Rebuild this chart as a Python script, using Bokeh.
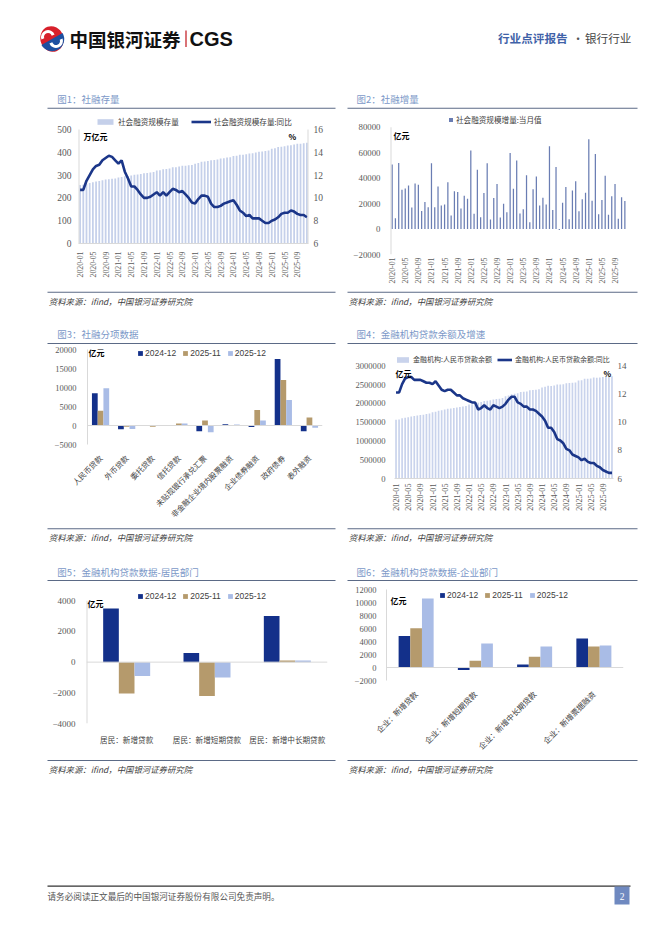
import math
from bokeh.plotting import figure
from bokeh.models import (Range1d, FactorRange, LinearAxis, Legend, LegendItem, Label, Span,
                          FixedTicker, ColumnDataSource, BasicTickFormatter)
from bokeh.layouts import column, row
from bokeh.transform import dodge
from bokeh.core.properties import value
from bokeh.embed import file_html
from bokeh.resources import INLINE

CJK = "Noto Sans CJK SC"
SERIF = "Liberation Serif"
SANS = "Liberation Sans"
NAVY = "#13308a"
TAN = "#b59a6c"
LIGHT = "#a9bce6"
TICK = "#595959"
AXIS = "#d9d9d9"
LINE_BLUE = "#1b3689"

# ---------------- data ----------------
years = ["2020", "2021", "2022", "2023", "2024", "2025"]
months = [f"{y}-{m:02d}" for y in years for m in range(1, 13)]
month_tick_labels = ["2020-01", "2020-05", "2020-09", "2021-01", "2021-05", "2021-09",
                     "2022-01", "2022-05", "2022-09", "2023-01", "2023-05", "2023-09",
                     "2024-01", "2024-05", "2024-09", "2025-01", "2025-05", "2025-09"]

# 图1 社会融资规模存量 (万亿元) and 同比 (%)
tsf_stock = [256.8, 257.7, 262.7, 265.7, 268.4, 271.8, 273.6, 276.9, 280.4, 281.6, 283.7, 284.8,
             289.8, 291.4, 294.6, 296.6, 298.6, 301.6, 302.5, 305.0, 307.8, 309.5, 311.9, 314.1,
             320.3, 321.3, 325.6, 326.5, 329.2, 334.3, 334.9, 337.2, 340.7, 341.4, 343.2, 344.2,
             350.0, 353.1, 359.0, 359.4, 361.4, 365.5, 365.8, 368.9, 372.5, 374.2, 376.8, 378.1,
             383.4, 384.7, 389.4, 389.2, 391.2, 395.1, 395.7, 398.8, 402.2, 403.5, 405.6, 408.3,
             415.2, 417.9, 423.0, 424.0, 426.2, 430.2, 431.3, 433.7, 437.1, 437.7, 440.1, 442.1]
tsf_stock_yoy = [10.7, 10.7, 11.5, 12.0, 12.5, 12.8, 12.9, 13.3, 13.5, 13.7, 13.6, 13.3,
                 13.0, 13.3, 12.3, 11.7, 11.0, 11.0, 10.7, 10.3, 10.0, 10.0, 10.1, 10.3,
                 10.5, 10.2, 10.5, 10.2, 10.5, 10.8, 10.7, 10.5, 10.6, 10.3, 10.0, 9.6,
                 9.5, 9.9, 10.2, 10.2, 10.1, 9.5, 9.2, 9.2, 9.3, 9.5, 9.6, 9.7,
                 9.8, 9.4, 8.9, 8.7, 8.4, 8.5, 8.2, 8.2, 8.2, 8.0, 7.8, 7.8,
                 8.0, 8.1, 8.3, 8.6, 8.7, 8.7, 8.9, 8.8, 8.6, 8.5, 8.5, 8.3]

# 图2 社会融资规模增量:当月值 (亿元)
tsf_flow = [50700, 8554, 51800, 30900, 31900, 34300, 16900, 35800, 34800, 14200, 21300, 17200,
            51700, 17100, 33400, 18500, 19200, 36700, 10600, 29600, 29000, 16200, 26100, 23700,
            61700, 12000, 46500, 9327, 28400, 51700, 7561, 24300, 35300, 9079, 19900, 13100,
            59800, 31600, 53800, 12200, 15600, 42200, 5282, 31200, 41300, 18500, 24500, 19300,
            65000, 15000, 48700, -658, 20600, 33000, 7708, 30300, 37600, 14000, 23400, 28500,
            70600, 22300, 58900, 11600, 22900, 41900, 11300, 25700, 35300, 8150, 24900, 22100]

# 图3 社融分项数据 (亿元)
tsf_items = ["人民币贷款", "外币贷款", "委托贷款", "信托贷款", "未贴现银行承兑汇票",
             "非金融企业境内股票融资", "企业债券融资", "政府债券", "表外融资"]
tsf_2024_12 = [8500, -1000, 50, 100, -1500, 300, -400, 17500, -1500]
tsf_2025_11 = [3900, -300, -300, 500, 1300, 100, 4100, 12000, 2100]
tsf_2025_12 = [9800, -900, 150, 500, -1800, 250, 1300, 6700, -600]

# 图4 金融机构:人民币贷款余额 (亿元) and 同比 (%)
loan_balance = [1564500, 1573500, 1602000, 1619000, 1633700, 1652000, 1661000, 1674000, 1693000, 1700000, 1715000, 1727500,
                1763000, 1777000, 1804000, 1819000, 1834000, 1855000, 1864000, 1876000, 1893000, 1901000, 1918000, 1926900,
                1967000, 1979000, 2010000, 2017000, 2036000, 2064000, 2068000, 2081000, 2106000, 2113000, 2126000, 2139900,
                2189000, 2207000, 2246000, 2253000, 2267000, 2303000, 2306000, 2319000, 2346000, 2353000, 2364000, 2375900,
                2425000, 2439000, 2470000, 2463000, 2478000, 2502000, 2500000, 2509000, 2536000, 2542000, 2548000, 2556800,
                2608000, 2618000, 2654000, 2657000, 2663000, 2686000, 2685000, 2691000, 2704000, 2702000, 2706000, 2719000]
loan_yoy = [12.1, 12.1, 12.7, 13.1, 13.2, 13.2, 13.0, 13.0, 13.0, 12.9, 12.8, 12.8,
            12.7, 12.9, 12.6, 12.3, 12.2, 12.3, 12.3, 12.1, 11.9, 11.9, 11.7, 11.6,
            11.5, 11.4, 11.4, 10.9, 11.0, 11.2, 11.0, 10.9, 11.2, 11.1, 11.0, 11.1,
            11.3, 11.6, 11.8, 11.8, 11.4, 11.3, 11.1, 11.1, 10.9, 10.9, 10.8, 10.6,
            10.4, 10.1, 9.6, 9.6, 9.3, 8.8, 8.7, 8.5, 8.1, 8.0, 7.7, 7.6,
            7.5, 7.3, 7.4, 7.2, 7.1, 7.1, 6.9, 6.8, 6.6, 6.5, 6.4, 6.4]

# 图5 居民部门 (亿元)
hh_items = ["居民：新增贷款", "居民：新增短期贷款", "居民：新增中长期贷款"]
hh_2024_12 = [3500, 600, 3000]
hh_2025_11 = [-2050, -2200, 100]
hh_2025_12 = [-900, -1000, 100]

# 图6 企业部门 (亿元)
ent_items = ["企业：新增贷款", "企业：新增短期贷款", "企业：新增中长期贷款", "企业：新增票据融资"]
ent_2024_12 = [4850, -400, 450, 4450]
ent_2025_11 = [6050, 1050, 1650, 3250]
ent_2025_12 = [10600, 3700, 3250, 3400]

series_names = ["2024-12", "2025-11", "2025-12"]


# ---------------- helpers ----------------
def headroom(v_top, y_top, v_bot, y_bot, frame_top):
    """range end so that v_top sits y_top px, v_bot sits y_bot px, frame starts at frame_top px"""
    per_px = (v_top - v_bot) / (y_bot - y_top)
    return v_top + (y_top - frame_top) * per_px


def chart_fig(w, h, xr, yr, ml, mr, mt, mb):
    p = figure(width=w, height=h, x_range=xr, y_range=yr, output_backend="svg",
               toolbar_location=None, min_border_left=ml, min_border_right=mr,
               min_border_top=mt, min_border_bottom=mb)
    try:
        p.frame_align = False
    except Exception:
        pass
    p.outline_line_color = None
    p.grid.grid_line_color = None
    return p


def style_y(ax, ticks, size="8.5px", standoff=8, line=True):
    ax.ticker = FixedTicker(ticks=ticks)
    ax.formatter = BasicTickFormatter(use_scientific=False)
    ax.major_label_text_font = SERIF
    ax.major_label_text_font_size = size
    ax.major_label_text_color = TICK
    ax.major_tick_line_color = None
    ax.minor_tick_line_color = None
    ax.major_tick_out = 0
    ax.major_tick_in = 0
    ax.minor_tick_out = 0
    ax.axis_line_color = AXIS if line else None
    ax.major_label_standoff = standoff


def style_x_months(ax, size="8px", standoff=6, line=True):
    idx = [months.index(t) for t in month_tick_labels]
    ax.ticker = FixedTicker(ticks=idx)
    ax.major_label_overrides = {i: months[i] for i in idx}
    ax.major_label_orientation = math.pi / 2
    ax.major_label_text_font = SERIF
    ax.major_label_text_font_size = size
    ax.major_label_text_color = TICK
    ax.major_tick_line_color = None
    ax.minor_tick_line_color = None
    ax.major_tick_out = 0
    ax.major_tick_in = 0
    ax.minor_tick_out = 0
    ax.axis_line_color = AXIS if line else None
    ax.major_label_standoff = standoff


def style_x_cat(ax, size="7.6px", standoff=10, orient=None):
    ax.major_label_text_font = CJK
    ax.major_label_text_font_size = size
    ax.major_label_text_color = "#404040"
    ax.major_tick_line_color = None
    ax.minor_tick_line_color = None
    ax.major_tick_out = 0
    ax.major_tick_in = 0
    ax.axis_line_color = None
    ax.major_label_standoff = standoff
    if orient is not None:
        ax.major_label_orientation = orient


def add_legend(p, items, x, y, gw, gh, font, size, spacing, standoff):
    lg = Legend(items=[LegendItem(label=l, renderers=[r]) for l, r in items],
                location=(x, y), orientation="horizontal",
                glyph_width=gw, glyph_height=gh, label_standoff=standoff,
                spacing=spacing, padding=0, margin=0, label_height=10, label_width=5,
                label_text_font=font, label_text_font_size=size, label_text_color="#404040",
                border_line_color=None, background_fill_alpha=0)
    p.add_layout(lg)


def unit_label(p, x, y, text):
    p.add_layout(Label(x=x, y=y, x_units="screen", y_units="screen", text=text,
                       text_font=CJK, text_font_style="bold", text_font_size="8px",
                       text_color="#000000", text_baseline="middle", text_align="left"))


def strip(y0, y1):
    p = figure(width=654, height=y1 - y0, x_range=Range1d(0, 654), y_range=Range1d(y1, y0),
               output_backend="svg", toolbar_location=None, x_axis_type=None, y_axis_type=None,
               min_border_left=0, min_border_right=0, min_border_top=0, min_border_bottom=0)
    p.outline_line_color = None
    return p


RULE = "#5b6a86"
TITLE_C = "#7b98c8"


def title_strip(y0, y1, ty, ly, titles):
    p = strip(y0, y1)
    p.text(x=[56.7, 356.0], y=[ty, ty], text=titles, text_font=value(CJK),
           text_font_size="9.5px", text_color=TITLE_C, text_baseline="middle")
    p.segment(x0=[47, 347], y0=[ly, ly], x1=[335, 637], y1=[ly, ly],
              line_color=RULE, line_width=1.1)
    return p


def source_strip(y0, y1, ly, ty):
    p = strip(y0, y1)
    p.segment(x0=[47, 347], y0=[ly, ly], x1=[335, 637], y1=[ly, ly],
              line_color=RULE, line_width=1.1)
    src = "资料来源：ifind，中国银河证券研究院"
    p.text(x=[48.3, 348.3], y=[ty, ty], text=[src, src], text_font=value(CJK),
           text_font_size="8.4px", text_font_style="italic", text_color="#404040",
           text_baseline="middle")
    return p


xi = list(range(len(months)))

# ---------------- header ----------------
hdr = strip(0, 88)
hdr.ellipse(x=[51.5], y=[38.5], width=[23], height=[26], angle=[0.35],
            fill_color="#d7202b", line_color=None)
hdr.wedge(x=[51.5], y=[38.5], radius=[12.2], start_angle=[-math.radians(150)],
          end_angle=[math.radians(30)], fill_color="#1c4fa0", line_color=None)
hdr.arc(x=[47.5], y=[36.5], radius=[5.5], start_angle=[math.radians(20)],
        end_angle=[math.radians(200)], line_color="white", line_width=3)
hdr.arc(x=[55.5], y=[40.5], radius=[5.5], start_angle=[math.radians(200)],
        end_angle=[math.radians(380)], line_color="white", line_width=3)
hdr.text(x=[69], y=[38.5], text=["中国银河证券"], text_font=value(CJK), text_font_style="bold",
         text_font_size="18.5px", text_color="#111111", text_baseline="middle")
hdr.segment(x0=[185.5], y0=[30], x1=[185.5], y1=[46.5], line_color="#c0151c", line_width=1.2)
hdr.text(x=[189], y=[38.5], text=["CGS"], text_font=value(SANS), text_font_style="bold",
         text_font_size="20px", text_color="#111111", text_baseline="middle")
hdr.text(x=[497.5], y=[37], text=["行业点评报告"], text_font=value(CJK), text_font_style="bold",
         text_font_size="11.6px", text_color="#3f62a8", text_baseline="middle")
hdr.text(x=[577.5], y=[37], text=["·"], text_font=value(CJK), text_align="center",
         text_font_size="11.6px", text_color="#555555", text_baseline="middle")
hdr.text(x=[584.5], y=[37], text=["银行行业"], text_font=value(CJK),
         text_font_size="11.6px", text_color="#444444", text_baseline="middle")

# ---------------- row 1 ----------------
t1 = title_strip(88, 112, 98.3, 107.7, ["图1：社融存量", "图2：社融增量"])

# frame from y=115 to y=243 (page px); 500 -> 129, 0 -> 243
p1 = chart_fig(341, 178, Range1d(-0.5, 71.5), Range1d(0, headroom(500, 129, 0, 243, 115)),
               78, 33, 3, 47)
p1.extra_y_ranges = {"r": Range1d(6, headroom(16, 129, 6, 243, 115))}
b1 = p1.vbar(x=xi, top=tsf_stock, width=0.55, fill_color="#c5d0ea", line_color=None)
l1 = p1.line(x=xi, y=tsf_stock_yoy, y_range_name="r", line_color=LINE_BLUE, line_width=2.6)
p1.segment(x0=[-0.5, 71.5], y0=[0, 0], x1=[-0.5, 71.5], y1=[500, 500], line_color=AXIS, line_width=2)
p1.add_layout(LinearAxis(y_range_name="r"), "right")
style_y(p1.yaxis[0], [0, 100, 200, 300, 400, 500], size="9.5px", standoff=7, line=False)
style_y(p1.yaxis[1], [6, 8, 10, 12, 14, 16], size="9.5px", standoff=5, line=False)
style_x_months(p1.xaxis[0], size="7.8px", standoff=8)
add_legend(p1, [("社会融资规模存量", b1), ("社会融资规模存量:同比", l1)], 17, 116, 20, 7,
           CJK, "7.6px", 12, 3)
unit_label(p1, 5, 107, "万亿元")
unit_label(p1, 210, 107, "%")

# frame from y=114 to y=254; 80000 -> 126.7, -20000 -> 254
p2 = chart_fig(313, 178, Range1d(-0.5, 71.5),
               Range1d(-20000, headroom(80000, 126.7, -20000, 254, 114)), 49, 28, 2, 36)
b2 = p2.vbar(x=xi, top=tsf_flow, width=0.38, fill_color="#6a7db3", line_color=None)
p2.segment(x0=[-0.5], y0=[-20000], x1=[-0.5], y1=[80000], line_color=AXIS, line_width=2)
style_y(p2.yaxis[0], [-20000, 0, 20000, 40000, 60000, 80000], size="8.8px", standoff=10, line=False)
style_x_months(p2.xaxis[0], size="7.8px", standoff=3, line=False)
add_legend(p2, [("社会融资规模增量:当月值", b2)], 58, 129, 5, 5, CJK, "7.6px", 8, 3)
unit_label(p2, 3, 119, "亿元")

s1 = source_strip(290, 310, 291.7, 300.3)

# ---------------- row 2 ----------------
t2 = title_strip(310, 344, 333.5, 343.0, ["图3：社融分项数据", "图4：金融机构贷款余额及增速"])

p3 = chart_fig(341, 182, FactorRange(*tsf_items), Range1d(-5000, 20000), 87, 19, 5, 78)
src3 = ColumnDataSource(dict(x=tsf_items, a=tsf_2024_12, b=tsf_2025_11, c=tsf_2025_12))
p3.add_layout(Span(location=0, dimension="width", line_color=AXIS, line_width=1))
r3a = p3.vbar(x=dodge("x", -0.22, range=p3.x_range), top="a", width=0.22, source=src3,
              fill_color=NAVY, line_color=None)
r3b = p3.vbar(x=dodge("x", 0.0, range=p3.x_range), top="b", width=0.22, source=src3,
              fill_color=TAN, line_color=None)
r3c = p3.vbar(x=dodge("x", 0.22, range=p3.x_range), top="c", width=0.22, source=src3,
              fill_color=LIGHT, line_color=None)
style_y(p3.yaxis[0], [-5000, 0, 5000, 10000, 15000, 20000], size="8.5px", standoff=11)
style_x_cat(p3.xaxis[0], size="7.6px", standoff=12, orient=math.pi / 4)
add_legend(p3, list(zip(series_names, [r3a, r3b, r3c])), 50, 86, 6, 6, SANS, "8.5px", 6, 2)
unit_label(p3, 1, 92, "亿元")

# frame from y=353 to y=478; 3000000 -> 365.3, 0 -> 478
p4 = chart_fig(313, 182, Range1d(-0.5, 71.5),
               Range1d(0, headroom(3000000, 365.3, 0, 478, 353)), 53, 41, 9, 48)
p4.extra_y_ranges = {"r": Range1d(6, headroom(14, 365.3, 6, 478, 353))}
b4 = p4.vbar(x=xi, top=loan_balance, width=0.55, fill_color="#c9d3ec", line_color=None)
l4 = p4.line(x=xi, y=loan_yoy, y_range_name="r", line_color=LINE_BLUE, line_width=2.6)
p4.add_layout(LinearAxis(y_range_name="r"), "right")
style_y(p4.yaxis[0], [0, 500000, 1000000, 1500000, 2000000, 2500000, 3000000], size="8.6px",
        standoff=9, line=False)
style_y(p4.yaxis[1], [6, 8, 10, 12, 14], size="9px", standoff=4, line=False)
style_x_months(p4.xaxis[0], size="8.2px", standoff=5)
add_legend(p4, [("金融机构:人民币贷款余额", b4), ("金融机构:人民币贷款余额:同比", l4)], 1, 114,
           15, 7, CJK, "7px", 5, 3)
unit_label(p4, 1, 105, "亿元")
unit_label(p4, 209, 105, "%")

s2 = source_strip(526, 546, 528.3, 536.8)

# ---------------- row 3 ----------------
t3 = title_strip(546, 584, 571.0, 580.0, ["图5：金融机构贷款数据-居民部门", "图6：金融机构贷款数据-企业部门"])

# frame from y=590 to y=723.3; 4000 -> 600.3, -4000 -> 723.3
p5 = chart_fig(341, 174, FactorRange(*hh_items),
               Range1d(-4000, headroom(4000, 600.3, -4000, 723.3, 590)), 86, 14, 6, 35)
src5 = ColumnDataSource(dict(x=hh_items, a=hh_2024_12, b=hh_2025_11, c=hh_2025_12))
p5.add_layout(Span(location=0, dimension="width", line_color=AXIS, line_width=1))
p5.segment(x0=[0], y0=[-4000], x1=[0], y1=[4000], line_color=AXIS, line_width=2)
r5a = p5.vbar(x=dodge("x", -0.195, range=p5.x_range), top="a", width=0.195, source=src5,
              fill_color=NAVY, line_color=None)
r5b = p5.vbar(x=dodge("x", 0.0, range=p5.x_range), top="b", width=0.195, source=src5,
              fill_color=TAN, line_color=None)
r5c = p5.vbar(x=dodge("x", 0.195, range=p5.x_range), top="c", width=0.195, source=src5,
              fill_color=LIGHT, line_color=None)
style_y(p5.yaxis[0], [-4000, -2000, 0, 2000, 4000], size="9px", standoff=11, line=False)
style_x_cat(p5.xaxis[0], size="7.6px", standoff=10)
add_legend(p5, list(zip(series_names, [r5a, r5b, r5c])), 51, 122, 6, 6, SANS, "8.5px", 6, 2)
unit_label(p5, 1, 120, "亿元")

p6 = chart_fig(313, 174, FactorRange(*ent_items), Range1d(-2000, 12000), 45, 31, 5, 75)
src6 = ColumnDataSource(dict(x=ent_items, a=ent_2024_12, b=ent_2025_11, c=ent_2025_12))
p6.add_layout(Span(location=0, dimension="width", line_color=AXIS, line_width=1))
r6a = p6.vbar(x=dodge("x", -0.197, range=p6.x_range), top="a", width=0.197, source=src6,
              fill_color=NAVY, line_color=None)
r6b = p6.vbar(x=dodge("x", 0.0, range=p6.x_range), top="b", width=0.197, source=src6,
              fill_color=TAN, line_color=None)
r6c = p6.vbar(x=dodge("x", 0.197, range=p6.x_range), top="c", width=0.197, source=src6,
              fill_color=LIGHT, line_color=None)
style_y(p6.yaxis[0], [-2000, 0, 2000, 4000, 6000, 8000, 10000, 12000], size="8.5px", standoff=10)
style_x_cat(p6.xaxis[0], size="7.8px", standoff=12, orient=math.pi / 4)
add_legend(p6, list(zip(series_names, [r6a, r6b, r6c])), 53, 80, 6, 6, SANS, "8.5px", 6, 2)
unit_label(p6, 4, 80, "亿元")

s3 = source_strip(758, 778, 760.0, 768.5)

# ---------------- footer ----------------
ftr = strip(778, 928)
ftr.segment(x0=[47], y0=[885.7], x1=[630], y1=[885.7], line_color="#333333", line_width=1.2)
ftr.text(x=[47], y=[895.5], text=["请务必阅读正文最后的中国银河证券股份有限公司免责声明。"],
         text_font=value(CJK), text_font_size="8.6px", text_color="#555555", text_baseline="middle")
ftr.quad(left=[614], right=[629], top=[886], bottom=[904], fill_color="#6f89c0", line_color=None)
ftr.text(x=[621.5], y=[895.5], text=["2"], text_font=value(SERIF), text_font_size="9.5px",
         text_color="#ffffff", text_align="center", text_baseline="middle")

layout = column(hdr, t1, row(p1, p2), s1, t2, row(p3, p4), s2, t3, row(p5, p6), s3, ftr)

open("out.html", "w").write(file_html(layout, INLINE))
